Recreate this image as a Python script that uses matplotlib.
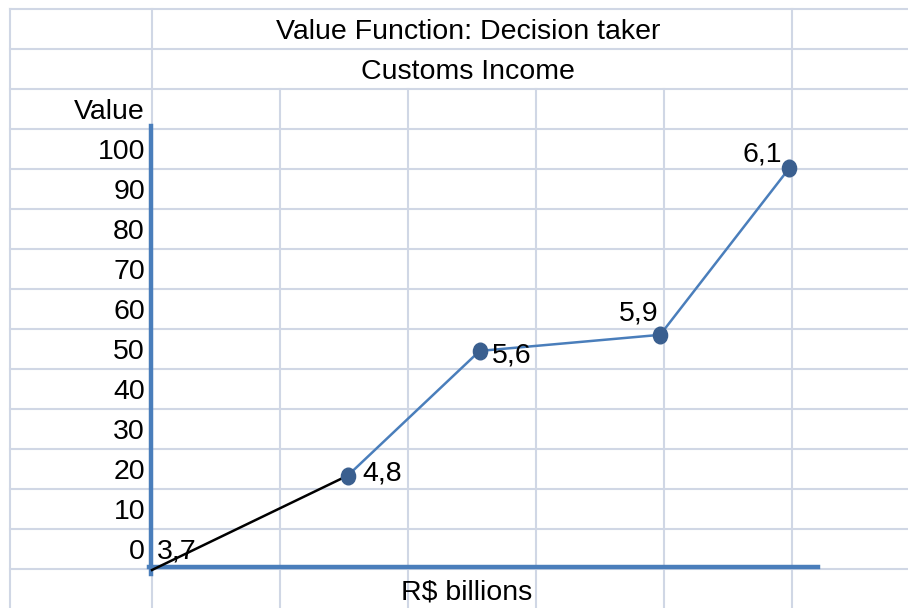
import matplotlib.pyplot as plt
import numpy as np
from matplotlib.path import Path

# data read from the sheet
income_labels = ["3,7", "4,8", "5,6", "5,9", "6,1"]
# horizontal placement, in sheet column widths from the y axis
x_pos = [0.0, 1.53, 2.56, 3.97, 4.98]
values = [0.0, 23.5, 54.5, 58.5, 100.0]
value_ticks = [0, 10, 20, 30, 40, 50, 60, 70, 80, 90, 100]

W, H = 908, 608
plt.rcParams['font.family'] = ['Liberation Sans', 'DejaVu Sans']
FS = 20.5
grid_col = '#d0d7e5'
blue = '#4a7ebb'
dark = '#3a5f8f'

fig = plt.figure(figsize=(W / 100, H / 100), dpi=100)

# background sheet, pixel coordinates
bg = fig.add_axes([0, 0, 1, 1])
bg.set_xlim(0, W)
bg.set_ylim(H, 0)
bg.axis('off')

row_lines = np.arange(9, H, 40)
for y in row_lines:
    bg.plot([10, W], [y, y], color=grid_col, lw=1.5, zorder=1)
for x in [10, 152, 792]:
    bg.plot([x, x], [9, H], color=grid_col, lw=1.5, zorder=1)
for x in [280, 408, 536, 664]:
    bg.plot([x, x], [89, H], color=grid_col, lw=1.5, zorder=1)

bg.text(468, 39, "Value Function: Decision taker", ha='center', va='baseline', fontsize=FS)
bg.text(468, 79, "Customs Income", ha='center', va='baseline', fontsize=FS)
bg.text(145, 119, "Value", ha='right', va='baseline', fontsize=FS)
for i, t in enumerate(value_ticks[::-1]):
    bg.text(145, 159 + 40 * i, str(t), ha='right', va='baseline', fontsize=FS)
bg.text(467, 599, "R$ billions", ha='center', va='baseline', fontsize=FS)

# chart overlay
x0, x5 = 152, 792
y0, y100 = 570, 168
ax = fig.add_axes([x0 / W, 1 - y0 / H, (x5 - x0) / W, (y0 - y100) / H])
ax.set_xlim(0, 5)
ax.set_ylim(0, 100)
ax.patch.set_visible(False)
for s in ['top', 'right']:
    ax.spines[s].set_visible(False)
ax.spines['left'].set_bounds(-1, 110.5)
ax.spines['bottom'].set_bounds(-0.02, 5.2)
ax.spines['left'].set_position(('data', -0.01))
ax.spines['bottom'].set_position(('data', 0.8))
for s in ['left', 'bottom']:
    ax.spines[s].set_color(blue)
    ax.spines[s].set_linewidth(3.2)
    ax.spines[s].set_zorder(2)
ax.set_xticks([])
ax.set_yticks([])

circ = Path.unit_circle()
egg = Path(circ.vertices * np.array([0.85, 1.0]), circ.codes)

ax.plot(x_pos[:2], values[:2], color='black', lw=1.8, clip_on=False, zorder=3)
ax.plot(x_pos[1:], values[1:], color=blue, lw=1.8, clip_on=False, zorder=3)
ax.plot(x_pos[1:], values[1:], ls='none', marker=egg, ms=12, color=dark, clip_on=False, zorder=4)

# labels next to points (offsets in points, to the text baseline)
offsets = [(3.6, 8, 'left'), (10.8, -3.6, 'left'), (8.6, -8, 'left'), (-1.4, 10, 'right'), (-5, 5, 'right')]
for lab, xp, v, (dx, dy, ha) in zip(income_labels, x_pos, values, offsets):
    ax.annotate(lab, (xp, v), xytext=(dx, dy), textcoords='offset points',
                ha=ha, va='baseline', fontsize=FS, annotation_clip=False, zorder=5)

fig.savefig('out.png', dpi=100)
